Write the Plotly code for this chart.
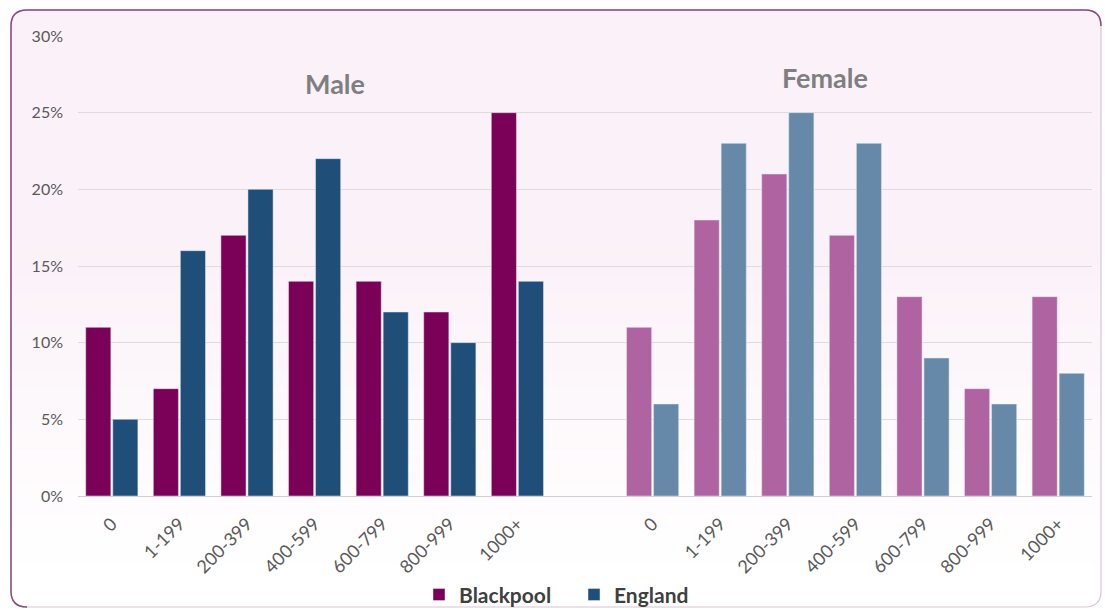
import plotly.graph_objects as go

# Weekly spend bands, shown once for each sex
bands = ["0", "1-199", "200-399", "400-599", "600-799", "800-999", "1000+"]

male_blackpool = [11, 7, 17, 14, 14, 12, 25]
male_england = [5, 16, 20, 22, 12, 10, 14]
female_blackpool = [11, 18, 21, 17, 13, 7, 13]
female_england = [6, 23, 25, 23, 9, 6, 8]

# Male bands take slots 0-6, one empty slot, Female bands take 8-14
male_x = list(range(len(bands)))
female_x = [len(bands) + 1 + i for i in range(len(bands))]

C_BP = "#7B0058"
C_EN = "#1F4E79"
C_BP_F = "#B063A1"
C_EN_F = "#6689A9"

FONT = "Lato, Open Sans, sans-serif"

fig = go.Figure()
fig.add_trace(go.Bar(x=male_x, y=male_blackpool, name="<b>Blackpool</b>", marker_color=C_BP,
                     offsetgroup="bp", legendgroup="bp"))
fig.add_trace(go.Bar(x=male_x, y=male_england, name="<b>England</b>", marker_color=C_EN,
                     offsetgroup="en", legendgroup="en"))
fig.add_trace(go.Bar(x=female_x, y=female_blackpool, name="Blackpool", marker_color=C_BP_F,
                     offsetgroup="bp", legendgroup="bp", showlegend=False))
fig.add_trace(go.Bar(x=female_x, y=female_england, name="England", marker_color=C_EN_F,
                     offsetgroup="en", legendgroup="en", showlegend=False))

# Plot-area pixel box used to place the rounded panel behind the chart
L, R, T, B = 78, 1092, 36, 496
W, H = R - L, B - T


def px(x):
    return (x - L) / W


def py(y):
    return (B - y) / H


x0, x1, y0, y1, r = 11, 1101, 10, 607, 16


def rounded(a, b, c, d, rad):
    return (
        f"M {px(a)},{py(b + rad)} "
        f"Q {px(a)},{py(b)} {px(a + rad)},{py(b)} "
        f"L {px(c - rad)},{py(b)} "
        f"Q {px(c)},{py(b)} {px(c)},{py(b + rad)} "
        f"L {px(c)},{py(d - rad)} "
        f"Q {px(c)},{py(d)} {px(c - rad)},{py(d)} "
        f"L {px(a + rad)},{py(d)} "
        f"Q {px(a)},{py(d)} {px(a)},{py(d - rad)} Z"
    )


# pink panel fill
fig.add_shape(type="path", path=rounded(x0, y0, x1, y1, r), xref="paper", yref="paper",
              layer="below", fillcolor="#FBF1F8", line=dict(width=0))

# fade the panel towards white at the bottom
steps = 24
top_fade, bottom_fade = 230, y1 + 2
for i in range(steps):
    ya = top_fade + (bottom_fade - top_fade) * i / steps
    yb = top_fade + (bottom_fade - top_fade) * (i + 1) / steps
    fig.add_shape(type="rect", xref="paper", yref="paper", layer="below",
                  x0=px(x0 + 1), x1=px(x1 + 2), y0=py(ya), y1=py(yb + 0.5),
                  fillcolor="white", opacity=min(1.0, (i + 1) / steps * 1.05),
                  line=dict(width=0))

# faint outline all round, then a stronger edge on the left and top
fig.add_shape(type="path", path=rounded(x0, y0, x1, y1, r), xref="paper", yref="paper",
              layer="below", line=dict(color="#D9C3D4", width=1.2))
edge = (
    f"M {px(x0 + r)},{py(y1)} Q {px(x0)},{py(y1)} {px(x0)},{py(y1 - r)} "
    f"L {px(x0)},{py(y0 + r)} Q {px(x0)},{py(y0)} {px(x0 + r)},{py(y0)} "
    f"L {px(x1 - r)},{py(y0)} Q {px(x1)},{py(y0)} {px(x1)},{py(y0 + r)}"
)
fig.add_shape(type="path", path=edge, xref="paper", yref="paper", layer="below",
              line=dict(color="#8A4A80", width=1.5))

title_font = dict(family=FONT, size=27, color="#7F7F7F")
fig.add_annotation(text="<b>Male</b>", x=3.3, y=26.9, xref="x", yref="y",
                   showarrow=False, font=title_font)
fig.add_annotation(text="<b>Female</b>", x=10.55, y=27.3, xref="x", yref="y",
                   showarrow=False, font=title_font)

fig.update_layout(
    width=1105, height=612,
    margin=dict(l=L, r=1105 - R, t=T, b=612 - B, autoexpand=False),
    paper_bgcolor="white",
    plot_bgcolor="rgba(0,0,0,0)",
    barmode="group",
    bargap=0.2,
    bargroupgap=0.07,
    font=dict(family=FONT, color="#595959"),
    showlegend=True,
    legend=dict(orientation="h", x=px(419), xanchor="left", y=-0.215, yanchor="middle",
                font=dict(size=21, color="#404040", family=FONT),
                bgcolor="rgba(0,0,0,0)", traceorder="normal", itemwidth=30,
                entrywidth=110, entrywidthmode="pixels"),
    xaxis=dict(
        range=[-0.5, 14.5],
        tickvals=male_x + female_x,
        ticktext=bands + bands,
        tickangle=-45,
        tickfont=dict(size=18, color="#595959"),
        showgrid=False,
        zeroline=False,
        showline=False,
        ticks="",
        automargin=False,
        ticklabelstandoff=13,
    ),
    yaxis=dict(
        range=[0, 30],
        dtick=5,
        ticksuffix="%",
        tickfont=dict(size=16, color="#595959"),
        showgrid=True,
        gridcolor="#DCDCDC",
        gridwidth=1,
        zeroline=True,
        zerolinecolor="#D0D0D0",
        zerolinewidth=1,
        automargin=False,
        ticklabelstandoff=14,
    ),
)

fig.write_html("out.html")
